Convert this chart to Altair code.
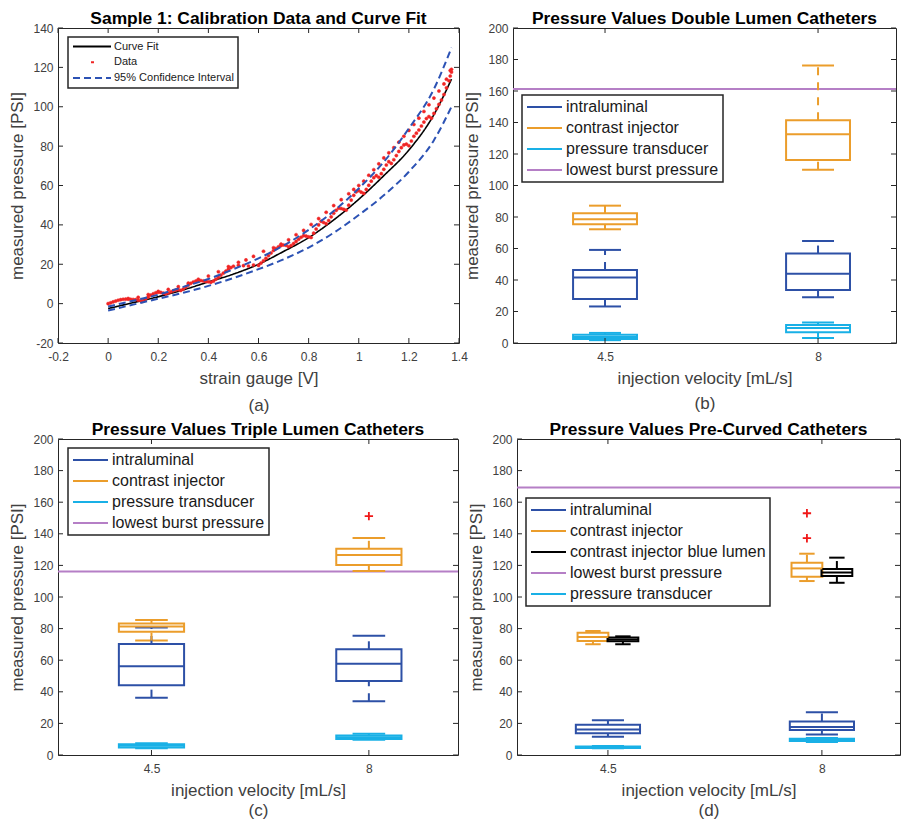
import altair as alt
import pandas as pd

FONT = "Liberation Sans"
AXC = "#262626"
TXT = "#404040"

# ---------------- panel (a): calibration ----------------
a_x_ticks = [-0.2, 0, 0.2, 0.4, 0.6, 0.8, 1, 1.2, 1.4]
a_y_ticks = [-20, 0, 20, 40, 60, 80, 100, 120, 140]

fit_v = [0.00, 0.10, 0.20, 0.30, 0.40, 0.50, 0.60, 0.70, 0.80, 0.90, 1.00, 1.10, 1.20, 1.30, 1.37]
fit_p = [-2.5, 0.5, 3.5, 7.0, 11.0, 15.0, 20.0, 26.5, 33.5, 42.5, 53.0, 65.0, 78.0, 96.0, 114.0]
ci_upper = [-1.5, 1.5, 4.5, 8.5, 12.5, 17.5, 23.0, 29.5, 37.5, 47.0, 58.5, 72.0, 89.0, 109.0, 130.0]
ci_lower = [-3.5, -0.5, 2.5, 5.5, 9.0, 13.0, 17.5, 22.5, 28.5, 36.0, 45.0, 55.0, 67.0, 83.0, 100.0]

data_v = [0.00, 0.01, 0.02, 0.03, 0.04, 0.05, 0.06, 0.07, 0.08, 0.09, 0.10, 0.11, 0.12, 0.13, 0.135,
          0.14, 0.15, 0.16, 0.17, 0.18, 0.19, 0.20, 0.21, 0.22, 0.23, 0.24, 0.25, 0.26, 0.27, 0.28,
          0.29, 0.30, 0.31, 0.32, 0.33, 0.34, 0.35, 0.36, 0.37, 0.38, 0.39, 0.40, 0.41, 0.42, 0.43,
          0.44, 0.45, 0.46, 0.47, 0.48, 0.49, 0.50, 0.52, 0.54, 0.56, 0.58, 0.60, 0.61, 0.62, 0.63,
          0.64, 0.65, 0.66, 0.67, 0.68, 0.69, 0.70, 0.71, 0.72, 0.73, 0.74, 0.75, 0.76, 0.77, 0.78,
          0.79, 0.80, 0.81, 0.82, 0.83, 0.84, 0.85, 0.86, 0.87, 0.88, 0.89, 0.90, 0.91, 0.92, 0.93,
          0.94, 0.95, 0.96, 0.97, 0.98, 0.99, 1.00, 1.01, 1.02, 1.03, 1.04, 1.05, 1.06, 1.07, 1.08,
          1.09, 1.10, 1.11, 1.12, 1.13, 1.14, 1.15, 1.16, 1.17, 1.18, 1.19, 1.20, 1.21, 1.22, 1.23,
          1.24, 1.25, 1.26, 1.27, 1.28, 1.29, 1.30, 1.31, 1.32, 1.33, 1.34, 1.35, 1.36, 1.365, 1.37,
          1.37,
          1.365, 1.35, 1.34, 1.32, 1.30, 1.28, 1.26, 1.24, 1.22, 1.20, 1.18, 1.16, 1.14, 1.12, 1.10,
          1.08, 1.06, 1.04, 1.02, 1.00, 0.98, 0.96, 0.93, 0.90, 0.87, 0.84, 0.81, 0.78, 0.75, 0.72,
          0.69, 0.66, 0.62, 0.58, 0.55, 0.52, 0.48, 0.44, 0.40, 0.36, 0.32, 0.28, 0.24, 0.20, 0.16,
          0.12, 0.08]
data_p = [0.0, 0.4, 0.9, 1.3, 1.7, 2.0, 2.2, 2.3, 2.3, 2.2, 2.1, 2.0, 1.8, 1.4, 1.1,
          1.3, 2.4, 3.4, 4.3, 5.0, 5.5, 5.8, 5.7, 5.3, 4.9, 5.4, 6.0, 6.5, 6.9, 7.1,
          6.7, 7.4, 8.4, 9.4, 10.3, 11.0, 11.5, 11.8, 11.7, 11.5, 11.3, 11.1, 10.8, 11.4, 12.4,
          13.4, 14.5, 15.5, 16.5, 17.5, 18.3, 19.0, 19.5, 19.3, 19.1, 19.6, 19.4, 20.6, 21.8, 23.0,
          24.4, 25.7, 27.0, 28.0, 28.9, 29.5, 29.8, 29.6, 28.9, 29.5, 30.5, 31.6, 32.7, 33.7, 34.5,
          34.3, 33.9, 33.6, 35.8, 37.9, 40.0, 41.8, 41.2, 40.6, 42.2, 44.1, 45.9, 47.4, 48.5, 48.3,
          47.9, 47.5, 50.0, 52.6, 55.0, 56.8, 57.4, 56.6, 56.0, 58.0, 60.1, 62.2, 64.0, 65.0, 64.2,
          66.0, 68.2, 70.4, 72.1, 71.2, 73.1, 75.2, 77.3, 79.2, 80.6, 81.0, 80.2, 82.6, 85.0, 86.6,
          88.2, 90.2, 92.2, 94.0, 95.0, 94.2, 96.6, 99.0, 101.2, 103.4, 106.2, 109.6, 113.2, 115.6, 117.6,
          119.0,
          118.4, 114.0, 111.6, 108.0, 104.4, 101.0, 97.6, 94.2, 91.0, 88.0, 85.0, 82.0, 79.2, 76.6, 74.0,
          71.0, 68.0, 65.2, 62.2, 60.0, 58.0, 55.8, 52.8, 49.8, 46.4, 43.2, 40.2, 37.2, 35.0, 32.4,
          30.2, 28.4, 26.6, 24.0, 22.2, 21.0, 18.8, 16.2, 14.0, 12.4, 10.4, 8.6, 7.2, 6.2, 4.6,
          3.2, 2.6]

a_series = ["Curve Fit", "Data", "95% Confidence Interval"]
a_colors = ["#000000", "#f02424", "#2c52b4"]
a_dashes = [[1, 0], [0, 18, 3, 60], [7, 4]]

# ---------------- box panels (b), (c), (d) ----------------
vel_pos = [1, 2]
vel_labels = ["4.5", "8"]
p_ticks = [0, 20, 40, 60, 80, 100, 120, 140, 160, 180, 200]

# (b) double lumen
b_series = ["intraluminal", "intraluminal", "contrast injector", "contrast injector",
            "pressure transducer", "pressure transducer"]
b_pos = [1, 2, 1, 2, 1, 2]
b_lo = [23.2, 29.0, 72.2, 110.0, 1.8, 3.2]
b_q1 = [27.9, 33.6, 75.4, 116.2, 2.6, 6.8]
b_med = [41.6, 43.9, 78.6, 132.6, 3.8, 9.5]
b_q3 = [46.4, 56.8, 82.4, 141.5, 5.2, 11.4]
b_hi = [59.1, 64.8, 87.2, 176.2, 6.4, 13.0]
b_out_series, b_out_pos, b_out_val = [], [], []
b_burst = 161.2

# (c) triple lumen
c_series = b_series
c_pos = b_pos
c_lo = [36.3, 34.0, 72.4, 116.5, 4.3, 9.6]
c_q1 = [44.2, 46.9, 78.0, 120.3, 4.8, 10.2]
c_med = [56.1, 57.8, 81.4, 126.6, 5.8, 11.2]
c_q3 = [70.3, 66.9, 83.3, 130.5, 6.8, 12.4]
c_hi = [80.7, 75.5, 85.4, 137.4, 7.4, 13.5]
c_out_series, c_out_pos, c_out_val = ["contrast injector"], [2], [151.2]
c_burst = 116.2

# (d) pre-curved
d_series = ["intraluminal", "intraluminal", "contrast injector", "contrast injector",
            "contrast injector blue lumen", "contrast injector blue lumen",
            "pressure transducer", "pressure transducer"]
d_pos = [1, 2, 1, 2, 1, 2, 1, 2]
d_lo = [11.5, 12.9, 70.1, 110.1, 70.1, 109.0, 4.2, 8.2]
d_q1 = [13.8, 15.9, 72.2, 112.8, 72.0, 113.3, 4.5, 8.8]
d_med = [16.2, 17.8, 74.7, 118.1, 73.1, 115.5, 4.9, 9.5]
d_q3 = [19.2, 21.2, 77.3, 121.7, 74.3, 117.7, 5.4, 10.3]
d_hi = [22.0, 27.0, 78.5, 127.4, 75.1, 124.9, 5.7, 10.8]
d_out_series = ["contrast injector", "contrast injector"]
d_out_pos = [2, 2]
d_out_val = [137.2, 153.0]
d_burst = 169.3

bc_domain = ["intraluminal", "contrast injector", "pressure transducer", "lowest burst pressure"]
bc_colors = ["#2d50a6", "#eb9d2b", "#19b0e6", "#b57fc6"]
d_domain = ["intraluminal", "contrast injector", "contrast injector blue lumen",
            "lowest burst pressure", "pressure transducer"]
d_colors = ["#2d50a6", "#eb9d2b", "#000000", "#b57fc6", "#19b0e6"]


def frame_ticks(xt, yt, w, h, xsc, ysc, xax, yax, L=5):
    xd = pd.DataFrame({"t": xt})
    yd = pd.DataFrame({"t": yt})
    m = dict(color=AXC, strokeWidth=1)
    X = alt.X("t:Q", scale=xsc, axis=xax)
    Y = alt.Y("t:Q", scale=ysc, axis=yax)
    return [
        alt.Chart(xd).mark_rule(**m).encode(x=X, y=alt.value(h), y2=alt.value(h - L)),
        alt.Chart(xd).mark_rule(**m).encode(x=X, y=alt.value(0), y2=alt.value(L)),
        alt.Chart(yd).mark_rule(**m).encode(y=Y, x=alt.value(0), x2=alt.value(L)),
        alt.Chart(yd).mark_rule(**m).encode(y=Y, x=alt.value(w), x2=alt.value(w - L)),
    ]


def title(t):
    return alt.TitleParams(t, fontSize=17.4, fontWeight="bold", color="black", offset=-5,
                           anchor="middle", frame="group")


# ---------- build panel (a) ----------
W_A, H_A = 401, 315
xs_a = alt.Scale(domain=[-0.2, 1.4], nice=False, zero=False)
ys_a = alt.Scale(domain=[-20, 140], nice=False, zero=False)
xax_a = alt.Axis(values=a_x_ticks, labelExpr="toString(datum.value)", labelFlush=False,
                 title=["strain gauge [V]", "(a)"], titleLineHeight=27)
yax_a = alt.Axis(values=a_y_ticks, labelExpr="toString(datum.value)", title="measured pressure [PSI]")
leg_a = alt.Legend(orient="none", legendX=10, legendY=9, title=None, labelFontSize=11,
                   symbolSize=1444, clipHeight=11, rowPadding=3.7, padding=4, labelOffset=2,
                   symbolType="stroke", symbolStrokeWidth=2, labelLimit=400)
st_a = alt.Stroke("series:N", scale=alt.Scale(domain=a_series, range=a_colors), legend=leg_a)
sd_a = alt.StrokeDash("series:N", scale=alt.Scale(domain=a_series, range=a_dashes), legend=leg_a)

n = len(fit_v)
ci_df = pd.DataFrame({"v": fit_v + fit_v, "p": ci_upper + ci_lower,
                      "branch": ["upper"] * n + ["lower"] * n,
                      "series": [a_series[2]] * (2 * n)})
fit_df = pd.DataFrame({"v": fit_v, "p": fit_p, "series": [a_series[0]] * n})
pts_df = pd.DataFrame({"v": data_v, "p": data_p, "series": [a_series[1]] * len(data_v)})

fit_layer = alt.Chart(fit_df).mark_line(strokeWidth=1.6, interpolate="monotone").encode(
    x=alt.X("v:Q", scale=xs_a, axis=xax_a), y=alt.Y("p:Q", scale=ys_a, axis=yax_a),
    stroke=st_a, strokeDash=sd_a)
pts_layer = alt.Chart(pts_df).mark_circle(size=10, fill="#f02424", opacity=1, strokeWidth=0.5).encode(
    x=alt.X("v:Q", scale=xs_a, axis=xax_a), y=alt.Y("p:Q", scale=ys_a, axis=yax_a), stroke=st_a)
ci_layer = alt.Chart(ci_df).mark_line(strokeWidth=2, interpolate="monotone").encode(
    x=alt.X("v:Q", scale=xs_a, axis=xax_a), y=alt.Y("p:Q", scale=ys_a, axis=yax_a),
    stroke=st_a, strokeDash=sd_a, detail="branch:N")

panel_a = alt.layer(fit_layer, pts_layer, ci_layer,
                    *frame_ticks(a_x_ticks, a_y_ticks, W_A, H_A, xs_a, ys_a, xax_a, yax_a)).properties(
    width=W_A, height=H_A, title=title("Sample 1: Calibration Data and Curve Fit"))


# ---------- box panels ----------
def box_panel(ttl, sub, series, pos, lo, q1, med, q3, hi, o_series, o_pos, o_val, burst,
              domain, colors, shift, half, w, h, xdom, lx, ly, lh):
    df = pd.DataFrame(dict(series=series, pos=pos, lo=lo, q1=q1, med=med, q3=q3, hi=hi))
    df["c"] = df["pos"] + df["series"].map(shift)
    hw = df["series"].map(half)
    df["l"] = df["c"] - hw
    df["r"] = df["c"] + hw
    df["cl"] = df["c"] - hw / 2
    df["cr"] = df["c"] + hw / 2
    odf = pd.DataFrame(dict(series=o_series, pos=o_pos, val=o_val))
    if len(odf):
        odf["c"] = odf["pos"] + odf["series"].map(shift)
    bdf = pd.DataFrame(dict(series=["lowest burst pressure"], val=[burst]))

    lbl = f"datum.value == {vel_pos[0]} ? '{vel_labels[0]}' : '{vel_labels[1]}'"
    xs = alt.Scale(domain=xdom, nice=False, zero=False)
    ys = alt.Scale(domain=[0, 200], nice=False, zero=False)
    xax = alt.Axis(values=vel_pos, labelExpr=lbl, labelFlush=False,
                   title=["injection velocity [mL/s]", sub], titleLineHeight=lh)
    yax = alt.Axis(values=p_ticks, labelExpr="toString(datum.value)", title="measured pressure [PSI]")
    leg = alt.Legend(orient="none", legendX=lx, legendY=ly, title=None, labelFontSize=16,
                     symbolSize=1225, clipHeight=16, rowPadding=5, padding=4, labelOffset=3,
                     symbolType="stroke", symbolStrokeWidth=2, symbolDash=[1, 0], labelLimit=400)
    st = alt.Stroke("series:N", scale=alt.Scale(domain=domain, range=colors), legend=leg)

    def X(f):
        return alt.X(f + ":Q", scale=xs, axis=xax)

    def Y(f):
        return alt.Y(f + ":Q", scale=ys, axis=yax)

    base = alt.Chart(df)
    layers = [
        alt.Chart(bdf).mark_rule(strokeWidth=2).encode(y=Y("val"), stroke=st),
        base.mark_rule(strokeWidth=2).encode(x=X("cl"), x2="cr:Q", y=Y("hi"), stroke=st),
        base.mark_rule(strokeWidth=2).encode(x=X("cl"), x2="cr:Q", y=Y("lo"), stroke=st),
        base.mark_rule(strokeWidth=2).encode(x=X("c"), y=Y("q3"), y2="hi:Q", stroke=st,
                                             strokeDash=alt.value([8, 7])),
        base.mark_rule(strokeWidth=2).encode(x=X("c"), y=Y("lo"), y2="q1:Q", stroke=st,
                                             strokeDash=alt.value([8, 7])),
        base.mark_rect(fill="transparent", strokeWidth=2).encode(x=X("l"), x2="r:Q", y=Y("q1"), y2="q3:Q",
                                                                 stroke=st),
        base.mark_rule(strokeWidth=2).encode(x=X("l"), x2="r:Q", y=Y("med"), stroke=st),
    ]
    if len(odf):
        layers.append(alt.Chart(odf).mark_point(shape="M-1,0L1,0M0,-1L0,1", size=70, filled=False,
                                                 color="#f01818", strokeWidth=1.8, opacity=1).encode(
            x=X("c"), y=Y("val")))
    layers += frame_ticks(vel_pos, p_ticks, w, h, xs, ys, xax, yax)
    return alt.layer(*layers).properties(width=w, height=h, title=title(ttl))


shift_bc = {"intraluminal": 0, "contrast injector": 0, "pressure transducer": 0}
half_bc = {"intraluminal": 0.15, "contrast injector": 0.15, "pressure transducer": 0.15}
shift_d = {"intraluminal": 0, "contrast injector": -0.07, "contrast injector blue lumen": 0.07,
           "pressure transducer": 0}
half_d = {"intraluminal": 0.15, "contrast injector": 0.072, "contrast injector blue lumen": 0.072,
          "pressure transducer": 0.15}

panel_b = box_panel("Pressure Values Double Lumen Catheters", "(b)", b_series, b_pos, b_lo, b_q1, b_med,
                    b_q3, b_hi, b_out_series, b_out_pos, b_out_val, b_burst, bc_domain, bc_colors,
                    shift_bc, half_bc, 383, 315, [0.568, 2.366], 9, 67, 25)
panel_c = box_panel("Pressure Values Triple Lumen Catheters", "(c)", c_series, c_pos, c_lo, c_q1, c_med,
                    c_q3, c_hi, c_out_series, c_out_pos, c_out_val, c_burst, bc_domain, bc_colors,
                    shift_bc, half_bc, 400, 316, [0.57, 2.41], 10, 9, 20)
panel_d = box_panel("Pressure Values Pre-Curved Catheters", "(d)", d_series, d_pos, d_lo, d_q1, d_med,
                    d_q3, d_hi, d_out_series, d_out_pos, d_out_val, d_burst, d_domain, d_colors,
                    shift_d, half_d, 383, 316, [0.575, 2.365], 9, 59, 20)

top = alt.hconcat(panel_a, panel_b, spacing=-5).resolve_scale(stroke="independent", strokeDash="independent")
bot = alt.hconcat(panel_c, panel_d, spacing=7).resolve_scale(stroke="independent")

chart = alt.vconcat(top, bot, spacing=6).resolve_scale(
    stroke="independent", strokeDash="independent"
).properties(
    padding={"left": 0, "top": 1, "right": 0, "bottom": 0}
).configure(font=FONT).configure_view(
    stroke=AXC, strokeWidth=1
).configure_axis(
    grid=False, domain=False, ticks=False, labelFont=FONT, labelFontSize=12, labelColor=TXT,
    titleFont=FONT, titleFontSize=17, titleFontWeight="normal", titleColor=TXT,
    labelPadding=5, titlePadding=6
).configure_axisX(labelPadding=8, titlePadding=8).configure_title(
    font=FONT, fontSize=17.4, fontWeight="bold", color="black"
).configure_legend(
    strokeColor=AXC, strokeWidth=1.5, fillColor="white", labelFont=FONT, labelColor="#1a1a1a"
)

chart.save("out.html", embed_options={"renderer": "svg", "actions": False})
